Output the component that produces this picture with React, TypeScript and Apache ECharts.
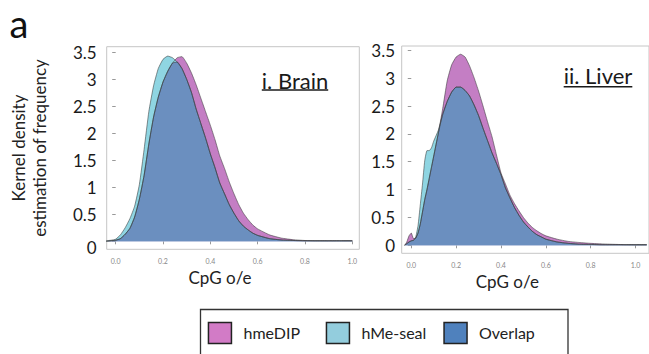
import React, { useEffect, useRef } from 'react';
import * as echarts from 'echarts';

// ---------- data ----------
const seriesNames = ['hmeDIP', 'hMe-seal', 'Overlap'];
const panelTitles = ['i. Brain', 'ii. Liver'];
const xAxisTitle = 'CpG o/e';
const yAxisTitle = 'Kernel density\nestimation of frequency';
const figureLetter = 'a';
const xTicks = [0, 0.2, 0.4, 0.6, 0.8, 1.0];
const yTicks = [0, 0.5, 1, 1.5, 2, 2.5, 3, 3.5];

const brainX = [
  -0.04, -0.02, 0, 0.02, 0.04, 0.06, 0.08, 0.1, 0.12, 0.14, 0.16, 0.18, 0.2, 0.22, 0.24, 0.26, 0.28,
  0.3, 0.32, 0.34, 0.36, 0.38, 0.4, 0.42, 0.44, 0.46, 0.48, 0.5, 0.52, 0.54, 0.56, 0.58, 0.6,
  0.65, 0.7, 0.75, 0.8, 0.85, 0.9, 0.95, 1.0,
];
const brainHmeDIP = [
  0.0, 0.01, 0.02, 0.05, 0.13, 0.24, 0.45, 0.78, 1.22, 1.8, 2.3, 2.67, 2.95, 3.15, 3.3, 3.4, 3.42,
  3.3, 3.12, 2.9, 2.65, 2.4, 2.15, 1.88, 1.58, 1.35, 1.1, 0.88, 0.68, 0.52, 0.4, 0.3, 0.23,
  0.12, 0.06, 0.03, 0.015, 0.01, 0.01, 0.01, 0.01,
];
const brainHMeSeal = [
  0.01, 0.02, 0.04, 0.12, 0.25, 0.42, 0.65, 1.05, 1.7, 2.4, 2.88, 3.2, 3.37, 3.43, 3.4, 3.32, 3.2,
  3.0, 2.76, 2.45, 2.18, 1.91, 1.62, 1.36, 1.08, 0.88, 0.68, 0.52, 0.38, 0.28, 0.21, 0.15, 0.11,
  0.05, 0.025, 0.015, 0.01, 0.01, 0.01, 0.01, 0.01,
];

const liverX = [
  -0.03, -0.02, -0.01, 0, 0.01, 0.02, 0.03, 0.04, 0.05, 0.06, 0.07, 0.08, 0.09, 0.1,
  0.12, 0.14, 0.16, 0.18, 0.2, 0.22, 0.24, 0.26, 0.28, 0.3, 0.32, 0.34, 0.36, 0.38, 0.4,
  0.42, 0.44, 0.46, 0.48, 0.5, 0.52, 0.54, 0.56, 0.58, 0.6,
  0.65, 0.7, 0.75, 0.8, 0.85, 0.9, 0.95, 1.0, 1.05,
];
const liverHmeDIP = [
  0.0, 0.06, 0.17, 0.22, 0.12, 0.13, 0.22, 0.38, 0.6, 0.82, 1.0, 1.2, 1.4, 1.6,
  2.0, 2.45, 2.95, 3.24, 3.38, 3.43, 3.38, 3.22, 3.01, 2.77, 2.5, 2.22, 1.95, 1.62, 1.3,
  1.1, 0.9, 0.75, 0.62, 0.5, 0.4, 0.32, 0.26, 0.21, 0.17,
  0.11, 0.07, 0.05, 0.035, 0.025, 0.018, 0.012, 0.01, 0.01,
];
const liverHMeSeal = [
  0.0, 0.03, 0.06, 0.08, 0.09, 0.15, 0.35, 0.72, 1.1, 1.52, 1.7, 1.7, 1.75, 1.87,
  2.06, 2.35, 2.58, 2.75, 2.84, 2.84, 2.78, 2.68, 2.52, 2.33, 2.1, 1.88, 1.66, 1.47, 1.27,
  1.03, 0.85, 0.68, 0.54, 0.42, 0.33, 0.25, 0.19, 0.15, 0.11,
  0.06, 0.035, 0.02, 0.015, 0.01, 0.01, 0.01, 0.01, 0.01,
];

// ---------- styles ----------
const FONT = 'Lato';
const fillColors = ['#C47EC4', '#8FD5E2', '#6B8FBF'];
const legendColors = ['#D27BC6', '#93CDDD', '#4F81BD'];
const outline = '#3a3a3a';

function area(name: string, data: number[][], color: string, idx: number) {
  return {
    type: 'line',
    name,
    xAxisIndex: idx,
    yAxisIndex: idx,
    data,
    symbol: 'none',
    showSymbol: false,
    silent: true,
    smooth: 0.15,
    lineStyle: { color: outline, width: 0.8, opacity: 0.7 },
    itemStyle: { color },
    areaStyle: { color, opacity: 1 },
  };
}

function panelSeries(xs: number[], dip: number[], seal: number[], idx: number) {
  const overlap = xs.map((_, i) => Math.min(dip[i], seal[i]));
  const pairs = (ys: number[]) => xs.map((x, i) => [x, ys[i]]);
  return [
    area(seriesNames[0], pairs(dip), fillColors[0], idx),
    area(seriesNames[1], pairs(seal), fillColors[1], idx),
    area(seriesNames[2], pairs(overlap), fillColors[2], idx),
  ];
}

function textWidth(text: string, font: string) {
  const c = document.createElement('canvas').getContext('2d');
  if (!c) return text.length * 9;
  c.font = font;
  return c.measureText(text).width;
}

export default function App() {
  const ref = useRef<HTMLDivElement>(null);
  useEffect(() => {
    if (!ref.current) return;
    const chart = echarts.init(ref.current, undefined, { renderer: 'svg' });

    const grids = [
      { left: 106.7, top: 46.7, width: 252.6, height: 202.6 },
      { left: 401.7, top: 46, width: 258.4, height: 207.3 },
    ];
    const xRanges = [
      [-0.038, 1.0296],
      [-0.0427, 1.06],
    ];
    const yRanges = [
      [-0.148, 3.604],
      [-0.1436, 3.578],
    ];
    const xNamePad = [26, 36];
    const xNameGap = [10, 18];
    const yLabelMargin = [10, 6.7];

    const titleFont = 22;
    const titles = [
      { cx: 295, mid: 80.1, ul: 90 },
      { cx: 598, mid: 75.1, ul: 86.7 },
    ];

    const graphic: any[] = [
      {
        type: 'text',
        x: 19,
        y: 23,
        style: { text: figureLetter, fontFamily: FONT, fontSize: 38, fill: '#111', align: 'center', verticalAlign: 'middle' },
      },
      {
        type: 'rect',
        shape: { x: 200.5, y: 309.5, width: 367.5, height: 60 },
        style: { fill: 'none', stroke: '#333', lineWidth: 1.3 },
      },
    ];
    titles.forEach((t, i) => {
      const w = textWidth(panelTitles[i], `${titleFont}px ${FONT}`);
      graphic.push({
        type: 'text',
        x: t.cx,
        y: t.mid,
        style: { text: panelTitles[i], fontFamily: FONT, fontSize: titleFont, fill: '#1a1a1a', align: 'center', verticalAlign: 'middle' },
      });
      graphic.push({
        type: 'line',
        shape: { x1: t.cx - w / 2, y1: t.ul, x2: t.cx + w / 2, y2: t.ul },
        style: { stroke: '#1a1a1a', lineWidth: 1.5 },
      });
    });

    const legendLefts = [207.7, 325.7, 443.3];
    const legends = seriesNames.map((n, i) => ({
      data: [n],
      left: legendLefts[i],
      top: 321.7,
      padding: 0,
      icon: 'rect',
      itemWidth: 23,
      itemHeight: 21,
      selectedMode: false,
      itemStyle: { color: legendColors[i], borderColor: '#222', borderWidth: 1.5 },
      textStyle: { fontFamily: FONT, fontSize: 16, color: '#222', padding: [0, 0, 0, 7] },
    }));

    const option: any = {
      animation: false,
      textStyle: { fontFamily: FONT },
      grid: grids.map((g) => ({ ...g, show: true, borderColor: '#c6c6c6', borderWidth: 1, backgroundColor: 'transparent' })),
      xAxis: grids.map((_, i) => ({
        type: 'value',
        gridIndex: i,
        min: xRanges[i][0],
        max: xRanges[i][1],
        name: xAxisTitle,
        nameLocation: 'middle',
        nameGap: xNameGap[i],
        nameTextStyle: { fontFamily: FONT, fontSize: 17, color: '#222', padding: [0, xNamePad[i], 0, 0] },
        axisLine: { show: false },
        splitLine: { show: false },
        axisTick: { show: true, length: 3, lineStyle: { color: '#999' }, customValues: xTicks },
        axisLabel: {
          customValues: xTicks,
          margin: 8,
          fontSize: 7,
          color: '#888',
          formatter: (v: number) => v.toFixed(1),
        },
      })),
      yAxis: grids.map((_, i) => ({
        type: 'value',
        gridIndex: i,
        min: yRanges[i][0],
        max: yRanges[i][1],
        name: i === 0 ? yAxisTitle : '',
        nameLocation: 'middle',
        nameRotate: 90,
        nameGap: 57,
        nameTextStyle: { fontFamily: FONT, fontSize: 17, color: '#222', lineHeight: 21 },
        axisLine: { show: false },
        splitLine: { show: false },
        axisTick: { show: true, length: 3.5, lineStyle: { color: '#999' }, customValues: yTicks },
        axisLabel: {
          customValues: yTicks,
          margin: yLabelMargin[i],
          fontSize: 17,
          color: '#1a1a1a',
          formatter: (v: number) => (i === 0 && v === 0 ? '{z|0}' : String(v)),
          rich: { z: { fontSize: 17, color: '#1a1a1a', fontFamily: FONT, padding: [12, 0, 0, 0] } },
        },
      })),
      legend: legends,
      series: [
        ...panelSeries(brainX, brainHmeDIP, brainHMeSeal, 0),
        ...panelSeries(liverX, liverHmeDIP, liverHMeSeal, 1),
      ],
      graphic,
    };
    chart.setOption(option);
    return () => chart.dispose();
  }, []);

  return (
    <div
      ref={ref}
      style={{ position: 'absolute', left: 0, top: 0, width: 649, height: 354, background: '#fff' }}
    />
  );
}
